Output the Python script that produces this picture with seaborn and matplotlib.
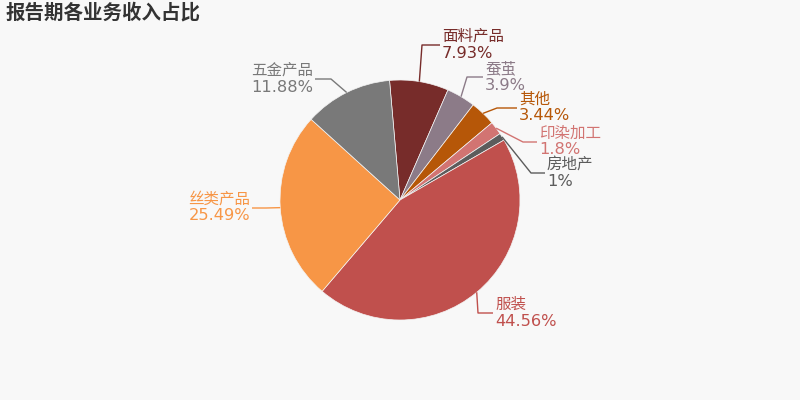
import matplotlib
matplotlib.use("Agg")
import matplotlib.pyplot as plt
import seaborn as sns
import numpy as np

# ---- data ----
categories = ["面料产品", "蚕茧", "其他", "印染加工", "房地产", "服装", "丝类产品", "五金产品"]
shares = [7.93, 3.9, 3.44, 1.8, 1.0, 44.56, 25.49, 11.88]
pct_labels = ["7.93%", "3.9%", "3.44%", "1.8%", "1%", "44.56%", "25.49%", "11.88%"]
colors = ["#772c2a", "#8c7b88", "#b65708", "#d27472", "#5c5c5c", "#c0504d", "#f79646", "#797979"]

# ---- layout (pixel positions of label elbows / ends, image coords, y down) ----
elbows = [(422, 45), (467, 77), (497, 108), (523, 142), (531, 173), (478, 313), (266, 208), (331, 79)]
ends = [(440, 45), (483, 77), (517, 108), (537, 142), (545, 173), (493, 313), (252, 208), (315, 79)]

BG = "#f8f8f8"
sns.set_theme(style="white", rc={"figure.facecolor": BG, "axes.facecolor": BG})
plt.rcParams["font.family"] = ["Noto Sans CJK SC", "DejaVu Sans"]

W, H = 800, 400
fig = plt.figure(figsize=(8, 4), dpi=100)
ax = fig.add_axes([0, 0, 1, 1])
pal = sns.color_palette(colors)

cx, cy, r = 400, 200, 120
wedges, _ = ax.pie(shares, colors=pal, startangle=95, counterclock=False,
                   center=(cx, cy), radius=r,
                   wedgeprops=dict(edgecolor="#f4f4f4", linewidth=0.5))
ax.set_xlim(0, W)
ax.set_ylim(0, H)
ax.set_aspect("equal")
ax.axis("off")

for w, name, pct, col, el, en in zip(wedges, categories, pct_labels, colors, elbows, ends):
    th = np.deg2rad((w.theta1 + w.theta2) / 2)
    sx, sy = cx + r * np.cos(th), cy + r * np.sin(th)
    ex, ey = el[0], H - el[1]
    fx, fy = en[0], H - en[1]
    ax.plot([sx, ex, fx], [sy, ey, fy], color=col, lw=1, solid_capstyle="butt")
    right = fx > ex
    ha = "left" if right else "right"
    tx = fx + 2 if right else fx - 2
    ax.text(tx, fy + 8.5, name, color=col, fontsize=11.2, ha=ha, va="center",
            family=["Noto Sans CJK SC", "DejaVu Sans"])
    ax.text(tx, fy - 8, pct, color=col, fontsize=11.7, ha=ha, va="center",
            family=["DejaVu Sans"])

fig.text(6 / W, 1 - 13 / H, "报告期各业务收入占比", fontsize=14, fontweight="bold",
         color="#333333", ha="left", va="center",
         family=["Noto Sans CJK SC", "DejaVu Sans"])

fig.savefig("out.png", dpi=100, facecolor=BG)
